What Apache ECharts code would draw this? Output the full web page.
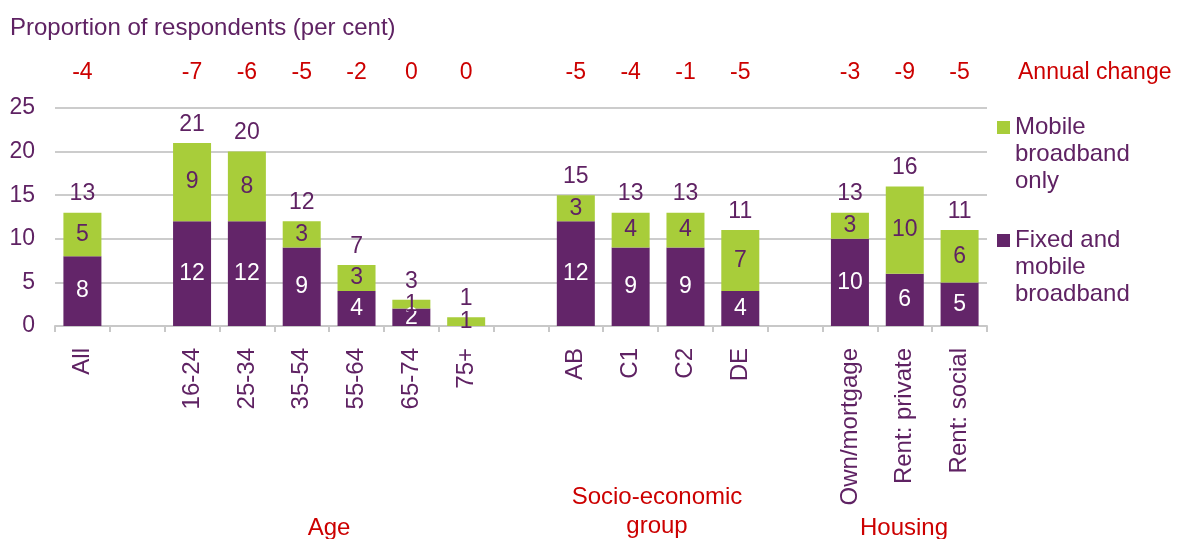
<!DOCTYPE html>
<html>
<head>
<meta charset="utf-8">
<script src="https://cdn.jsdelivr.net/npm/echarts@6/dist/echarts.min.js"></script>
<style>
  html, body { margin: 0; padding: 0; background: #fff; }
  #chart { width: 1184px; height: 539px; }
</style>
</head>
<body>
<div id="chart"></div>
<script>
// Categories (empty strings leave a spacer between groups)
const categories = ['All', '', '16-24', '25-34', '35-54', '55-64', '65-74', '75+', '',
                    'AB', 'C1', 'C2', 'DE', '', 'Own/mortgage', 'Rent: private', 'Rent: social'];
// Fixed and mobile broadband (per cent)
const fixedAndMobile = [8, null, 12, 12, 9, 4, 2, 0, null, 12, 9, 9, 4, null, 10, 6, 5];
// Mobile broadband only (per cent)
const mobileOnly = [5, null, 9, 8, 3, 3, 1, 1, null, 3, 4, 4, 7, null, 3, 10, 6];
// Totals shown above each bar
const totals = [13, null, 21, 20, 12, 7, 3, 1, null, 15, 13, 13, 11, null, 13, 16, 11];
// Annual change in percentage points
const annualChange = ['-4', '', '-7', '-6', '-5', '-2', '0', '0', '',
                      '-5', '-4', '-1', '-5', '', '-3', '-9', '-5'];
const yTicks = [0, 5, 10, 15, 20, 25];

const PURPLE = '#632569';
const GREEN = '#a8cd3a';
const TEXT = '#5f2263';
const RED = '#cc0000';
const FONT = 'Liberation Sans, Arial, sans-serif';
const NUM = 23;   // numeric label size
const WORD = 24;  // word label size

const chart = echarts.init(document.getElementById('chart'), null, { renderer: 'canvas' });

const hideZero = p => (p.value == null || p.value === 0) ? '' : String(p.value);

// Legend text: two leading blank lines keep the swatch level with the first line
const legendText = { color: TEXT, fontSize: WORD, lineHeight: 27, fontFamily: FONT };

chart.setOption({
  animation: false,
  textStyle: { fontFamily: FONT },
  grid: { left: 55, right: 197, top: 108, bottom: 213, containLabel: false },
  legend: [
    {
      data: ['Mobile broadband only'],
      left: 997, top: 60, orient: 'vertical', padding: 0,
      itemWidth: 13, itemHeight: 13, itemGap: 6, icon: 'rect',
      formatter: () => '\n\nMobile\nbroadband\nonly',
      textStyle: legendText
    },
    {
      data: ['Fixed and mobile broadband'],
      left: 997, top: 173, orient: 'vertical', padding: 0,
      itemWidth: 13, itemHeight: 13, itemGap: 6, icon: 'rect',
      formatter: () => '\n\nFixed and\nmobile\nbroadband',
      textStyle: legendText
    }
  ],
  xAxis: [
    {
      type: 'category',
      data: categories,
      boundaryGap: true,
      axisLine: { show: true, lineStyle: { color: '#c8c8c8', width: 2 } },
      axisTick: { show: true, length: 6, alignWithLabel: false, interval: 0, lineStyle: { color: '#c8c8c8', width: 2 } },
      axisLabel: { interval: 0, rotate: 90, margin: 22, color: TEXT, fontSize: WORD, fontFamily: FONT }
    },
    {
      type: 'category',
      position: 'top',
      data: annualChange,
      boundaryGap: true,
      axisLine: { show: false },
      axisTick: { show: false },
      axisLabel: { interval: 0, margin: 24, color: RED, fontSize: NUM, fontFamily: FONT }
    }
  ],
  yAxis: {
    type: 'value',
    min: 0, max: 25, interval: 5,
    axisLine: { show: false },
    axisTick: { show: false },
    splitLine: { show: true, lineStyle: { color: '#cccccc', width: 2 } },
    axisLabel: {
      margin: 20, color: TEXT, fontSize: NUM, fontFamily: FONT,
      formatter: v => yTicks.includes(v) ? String(v) : ''
    }
  },
  series: [
    {
      name: 'Fixed and mobile broadband',
      type: 'bar', stack: 'total', barWidth: 38,
      data: fixedAndMobile,
      itemStyle: { color: PURPLE },
      label: { show: true, position: 'inside', color: '#ffffff', fontSize: NUM, fontFamily: FONT, formatter: hideZero }
    },
    {
      name: 'Mobile broadband only',
      type: 'bar', stack: 'total', barWidth: 38,
      data: mobileOnly,
      itemStyle: { color: GREEN },
      label: { show: true, position: 'inside', color: TEXT, fontSize: NUM, fontFamily: FONT, formatter: hideZero }
    },
    {
      name: 'Total',
      type: 'scatter',
      data: totals,
      symbolSize: 0,
      silent: true,
      itemStyle: { opacity: 1 },
      label: { show: true, position: 'top', distance: 7, color: TEXT, fontSize: NUM, fontFamily: FONT, formatter: p => p.value == null ? '' : String(p.value) }
    }
  ],
  graphic: [
    { type: 'text', left: 10, top: 16, style: { text: 'Proportion of respondents (per cent)', fill: TEXT, font: WORD + 'px ' + FONT } },
    { type: 'text', left: 1018, top: 61, style: { text: 'Annual change', fill: RED, font: NUM + 'px ' + FONT } },
    { type: 'text', x: 329, y: 528, style: { text: 'Age', fill: RED, font: WORD + 'px ' + FONT, align: 'center', verticalAlign: 'middle' } },
    { type: 'text', x: 657, y: 512, style: { text: 'Socio-economic\ngroup', fill: RED, font: WORD + 'px ' + FONT, lineHeight: 29, align: 'center', verticalAlign: 'middle' } },
    { type: 'text', x: 904, y: 528, style: { text: 'Housing', fill: RED, font: WORD + 'px ' + FONT, align: 'center', verticalAlign: 'middle' } }
  ]
});
</script>
</body>
</html>
